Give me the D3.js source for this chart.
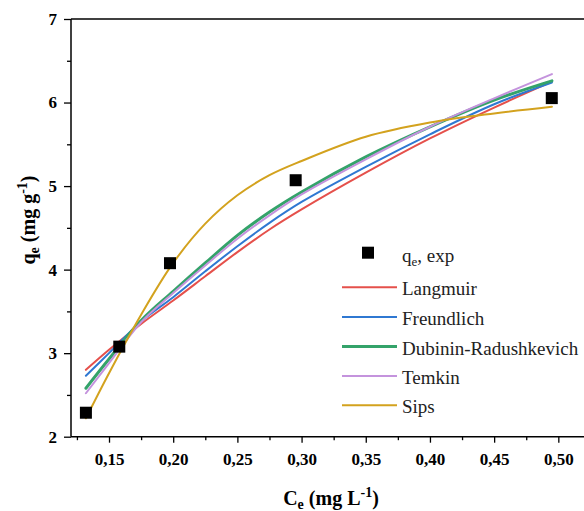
<!DOCTYPE html>
<html><head><meta charset="utf-8">
<script src="https://cdn.jsdelivr.net/npm/d3@7"></script>
<style>
html,body{margin:0;padding:0;background:#fff;}
svg{display:block;}
</style></head>
<body>
<script>
// ---- data ----
const expC = [0.132, 0.158, 0.1975, 0.2954, 0.4949];
const expQ = [2.287, 3.078, 4.077, 5.07, 6.053];

const fitC = [0.132, 0.15, 0.175, 0.20, 0.225, 0.25, 0.275, 0.30, 0.35, 0.40, 0.45, 0.495];
const langmuir = [2.80, 3.04, 3.35, 3.63, 3.92, 4.21, 4.48, 4.72, 5.16, 5.57, 5.94, 6.25];
const freundlich = [2.73, 3.00, 3.38, 3.67, 3.98, 4.28, 4.56, 4.81, 5.23, 5.62, 5.98, 6.24];
const dubinin = [2.58, 2.93, 3.39, 3.74, 4.08, 4.41, 4.69, 4.93, 5.35, 5.71, 6.03, 6.26];
const temkin = [2.52, 2.88, 3.37, 3.72, 4.05, 4.37, 4.65, 4.90, 5.32, 5.71, 6.05, 6.34];
const sips = [2.22, 2.76, 3.46, 4.08, 4.55, 4.89, 5.13, 5.30, 5.59, 5.76, 5.87, 5.95];

const seriesNames = ["Langmuir", "Freundlich", "Dubinin-Radushkevich", "Temkin", "Sips"];
const seriesValues = [langmuir, freundlich, dubinin, temkin, sips];
const seriesColors = ["#e5504b", "#2f78d2", "#34a36a", "#c493dd", "#d3a21e"];
const seriesWidths = [2, 2, 3, 2, 2];

const xMajor = [0.15, 0.20, 0.25, 0.30, 0.35, 0.40, 0.45, 0.50];
const xMinor = [0.125, 0.175, 0.225, 0.275, 0.325, 0.375, 0.425, 0.475];
const yMajor = [2, 3, 4, 5, 6, 7];
const yMinor = [2.5, 3.5, 4.5, 5.5, 6.5];

// ---- layout ----
const W = 584, H = 511;
const L = 71, T = 19, B = 436.7, R = 584;
const x = d3.scaleLinear().domain([0.12, 0.52]).range([70.5, 584]);
const y = d3.scaleLinear().domain([2, 7]).range([B, T]);
const FONT = '"Liberation Serif"';

const svg = d3.select("body").append("svg").attr("width", W).attr("height", H);

// curves
const line = d3.line().x(d => x(d[0])).y(d => y(d[1])).curve(d3.curveCatmullRom.alpha(0.5));
seriesValues.forEach((vals, i) => {
  svg.append("path")
    .datum(fitC.map((c, j) => [c, vals[j]]))
    .attr("d", line)
    .attr("fill", "none")
    .attr("stroke", seriesColors[i])
    .attr("stroke-width", seriesWidths[i])
    .attr("stroke-linecap", "round");
});

// experimental points
const S = 12;
svg.selectAll("rect.pt").data(expC.map((c, i) => [c, expQ[i]])).enter()
  .append("rect").attr("class", "pt")
  .attr("x", d => x(d[0]) - S / 2).attr("y", d => y(d[1]) - S / 2)
  .attr("width", S).attr("height", S).attr("fill", "#000");

// frame top
svg.append("line").attr("x1", L).attr("x2", R + 5).attr("y1", T).attr("y2", T)
  .attr("stroke", "#000").attr("stroke-width", 1.5);

// axes
const fmt = v => d3.format(".2f")(v).replace(".", ",");
const xAxis = svg.append("g").attr("transform", `translate(0,${B})`)
  .call(d3.axisBottom(x).tickValues(xMajor).tickFormat(fmt).tickSize(6).tickPadding(10).tickSizeOuter(0));
const xMin = svg.append("g").attr("transform", `translate(0,${B})`)
  .call(d3.axisBottom(x).tickValues(xMinor).tickFormat("").tickSize(3.5).tickSizeOuter(0));
const yAxis = svg.append("g").attr("transform", `translate(${L},0)`)
  .call(d3.axisLeft(y).tickValues(yMajor).tickFormat(d3.format("d")).tickSize(7).tickPadding(7).tickSizeOuter(0));
const yMin = svg.append("g").attr("transform", `translate(${L},0)`)
  .call(d3.axisLeft(y).tickValues(yMinor).tickFormat("").tickSize(4).tickSizeOuter(0));

[xAxis, xMin, yAxis, yMin].forEach(g => {
  g.selectAll("path.domain").attr("stroke", "#000").attr("stroke-width", 1.5);
  g.selectAll(".tick line").attr("stroke", "#000").attr("stroke-width", 1.3);
  g.selectAll("text").style("font-family", FONT).attr("font-weight", "bold")
    .attr("font-size", 17).attr("fill", "#000");
});
xMin.select("path.domain").remove();
yMin.select("path.domain").remove();
xAxis.select("path.domain").attr("d", `M${L},0H${R + 5}`);
yAxis.select("path.domain").attr("d", `M0,${T}V${B}`);

// axis titles
const xt = svg.append("text").attr("x", 331).attr("y", 505).attr("text-anchor", "middle")
  .style("font-family", FONT).attr("font-weight", "bold").attr("font-size", 20);
xt.append("tspan").text("C");
xt.append("tspan").attr("font-size", 14).attr("dy", 4).text("e");
xt.append("tspan").attr("dy", -4).text(" (mg L");
xt.append("tspan").attr("font-size", 14).attr("dy", -8).text("-1");
xt.append("tspan").attr("dy", 8).text(")");

const yt = svg.append("text").attr("transform", "translate(35,220) rotate(-90)")
  .attr("text-anchor", "middle")
  .style("font-family", FONT).attr("font-weight", "bold").attr("font-size", 20);
yt.append("tspan").text("q");
yt.append("tspan").attr("font-size", 14).attr("dy", 4).text("e");
yt.append("tspan").attr("dy", -4).text(" (mg g");
yt.append("tspan").attr("font-size", 14).attr("dy", -8).text("-1");
yt.append("tspan").attr("dy", 8).text(")");

// legend
const lg = svg.append("g");
lg.append("rect").attr("x", 368 - 6).attr("y", 252.7 - 6).attr("width", 12).attr("height", 12).attr("fill", "#000");
const lt = lg.append("text").attr("x", 402).attr("y", 261.5)
  .style("font-family", FONT).attr("font-size", 19).attr("fill", "#222");
lt.append("tspan").text("q");
lt.append("tspan").attr("font-size", 13).attr("dy", 4).text("e");
lt.append("tspan").attr("dy", -4).text(", exp");
const rowY = [287.3, 317, 346.5, 376, 405.3];
seriesNames.forEach((n, i) => {
  lg.append("line").attr("x1", 342).attr("x2", 397).attr("y1", rowY[i]).attr("y2", rowY[i])
    .attr("stroke", seriesColors[i]).attr("stroke-width", seriesWidths[i]);
  lg.append("text").attr("x", 402).attr("y", rowY[i] + 8)
    .style("font-family", FONT).attr("font-size", 19).attr("fill", "#222").text(n);
});
</script>
</body></html>
